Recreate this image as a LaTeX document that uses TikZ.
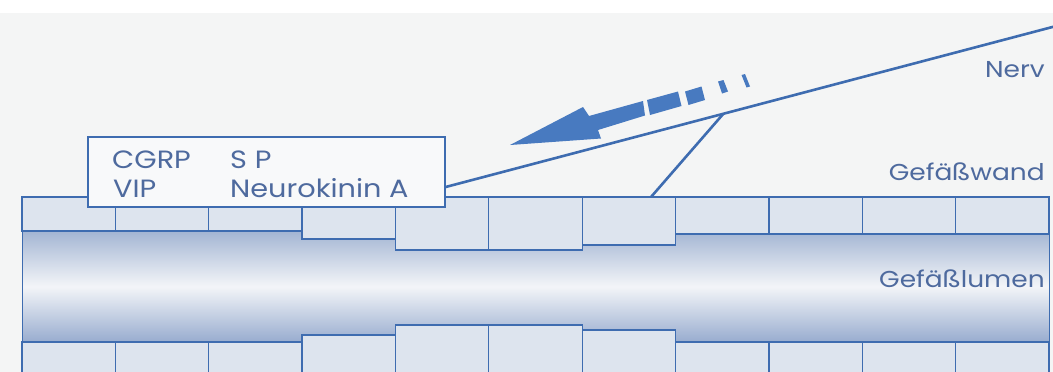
\documentclass[tikz,border=0pt]{standalone}
\usepackage{fontspec}
\setmainfont{Poppins}
\newfontfamily\futur{Poppins}[FakeStretch=1.15]
\usetikzlibrary{calc}
\definecolor{bgc}{RGB}{244,245,245}
\definecolor{linec}{RGB}{62,108,176}
\definecolor{arrowc}{RGB}{72,122,192}
\definecolor{textc}{RGB}{78,106,158}
\definecolor{cellc}{RGB}{221,228,238}
\definecolor{lumtop}{RGB}{163,181,211}
\definecolor{lummid}{RGB}{243,245,248}
\definecolor{lumbot}{RGB}{152,172,207}
\definecolor{boxc}{RGB}{248,249,250}
\tikzset{
  cell/.style={draw=linec, fill=cellc, line width=1.3pt},
  nerve/.style={draw=linec, line width=2.6pt},
  boxstyle/.style={draw=linec, fill=boxc, line width=1.4pt, minimum width=357pt, minimum height=70pt, inner sep=0pt},
  boxtext/.style={text=textc, font=\futur\fontsize{25}{28}\selectfont, inner sep=0pt, anchor=base west},
  lab/.style={text=textc, font=\futur\fontsize{23}{26}\selectfont, inner sep=0pt, anchor=base east},
}
\begin{document}
\begin{tikzpicture}[x=1pt,y=-1pt]
\useasboundingbox (0,0) rectangle (1053,372);
\fill[bgc] (0,0) rectangle (1053,372);
\fill[white] (0,0) rectangle (1053,13);
% lumen
\shade[top color=lumtop, bottom color=lumbot, middle color=lummid] (22,231) rectangle (1049,342);
\draw[linec, line width=1pt] (22,231) -- (22,342) (1049,231) -- (1049,342);
% top wall
\foreach \i/\b in {0/231,1/231,2/231,3/239,4/250,5/250,6/245,7/234,8/234,9/234,10/234} {
  \draw[cell] ({22+93.36*\i},197) rectangle ({22+93.36*(\i+1)},\b);
}
% bottom wall
\foreach \i/\t in {0/342,1/342,2/342,3/335,4/325,5/325,6/330,7/342,8/342,9/342,10/342} {
  \draw[cell] ({22+93.36*\i},\t) rectangle ({22+93.36*(\i+1)},380);
}
% box
\node[boxstyle] (box) at (266.5,172) {};
\node[boxtext] (cgrp) at (112,168) {CGRP};
\node[boxtext] (sp) at (230,168) {S P};
\node[boxtext] (vip) at (113,197) {VIP};
\node[boxtext] (nka) at (230,197) {Neurokinin A};
% nerve
\coordinate (nA) at ($(box.south east)!0.29!(box.north east)$);
\coordinate (nB) at (1060,25);
\coordinate (nC) at ($(nA)!0.452!(nB)$);
\coordinate (wA) at (651,197);
\draw[nerve] (nA) -- (nB);
\draw[nerve] (nC) -- (wA);
% arrow
\fill[arrowc] (510,145) -- (583,107) -- (589,116) -- (643,101) -- (645,115.5) -- (598,130) -- (601,138.5) -- cycle;
\fill[arrowc] (647,100) -- (678,91.5) -- (681.5,106) -- (650,115) -- cycle;
\fill[arrowc] (685,91.5) -- (701.5,86.5) -- (705,100) -- (688.5,105) -- cycle;
\fill[arrowc] (718,81.5) -- (723.5,80) -- (728,91.5) -- (722,93.5) -- cycle;
\fill[arrowc] (741.5,75) -- (745,74) -- (750,86.5) -- (746.5,87.5) -- cycle;
% labels
\node[lab] (nerv) at (1045,77) {Nerv};
\node[lab] (wand) at (1045,180) {Gefäßwand};
\node[lab] (lumen) at (1045,287) {Gefäßlumen};
\end{tikzpicture}
\end{document}
